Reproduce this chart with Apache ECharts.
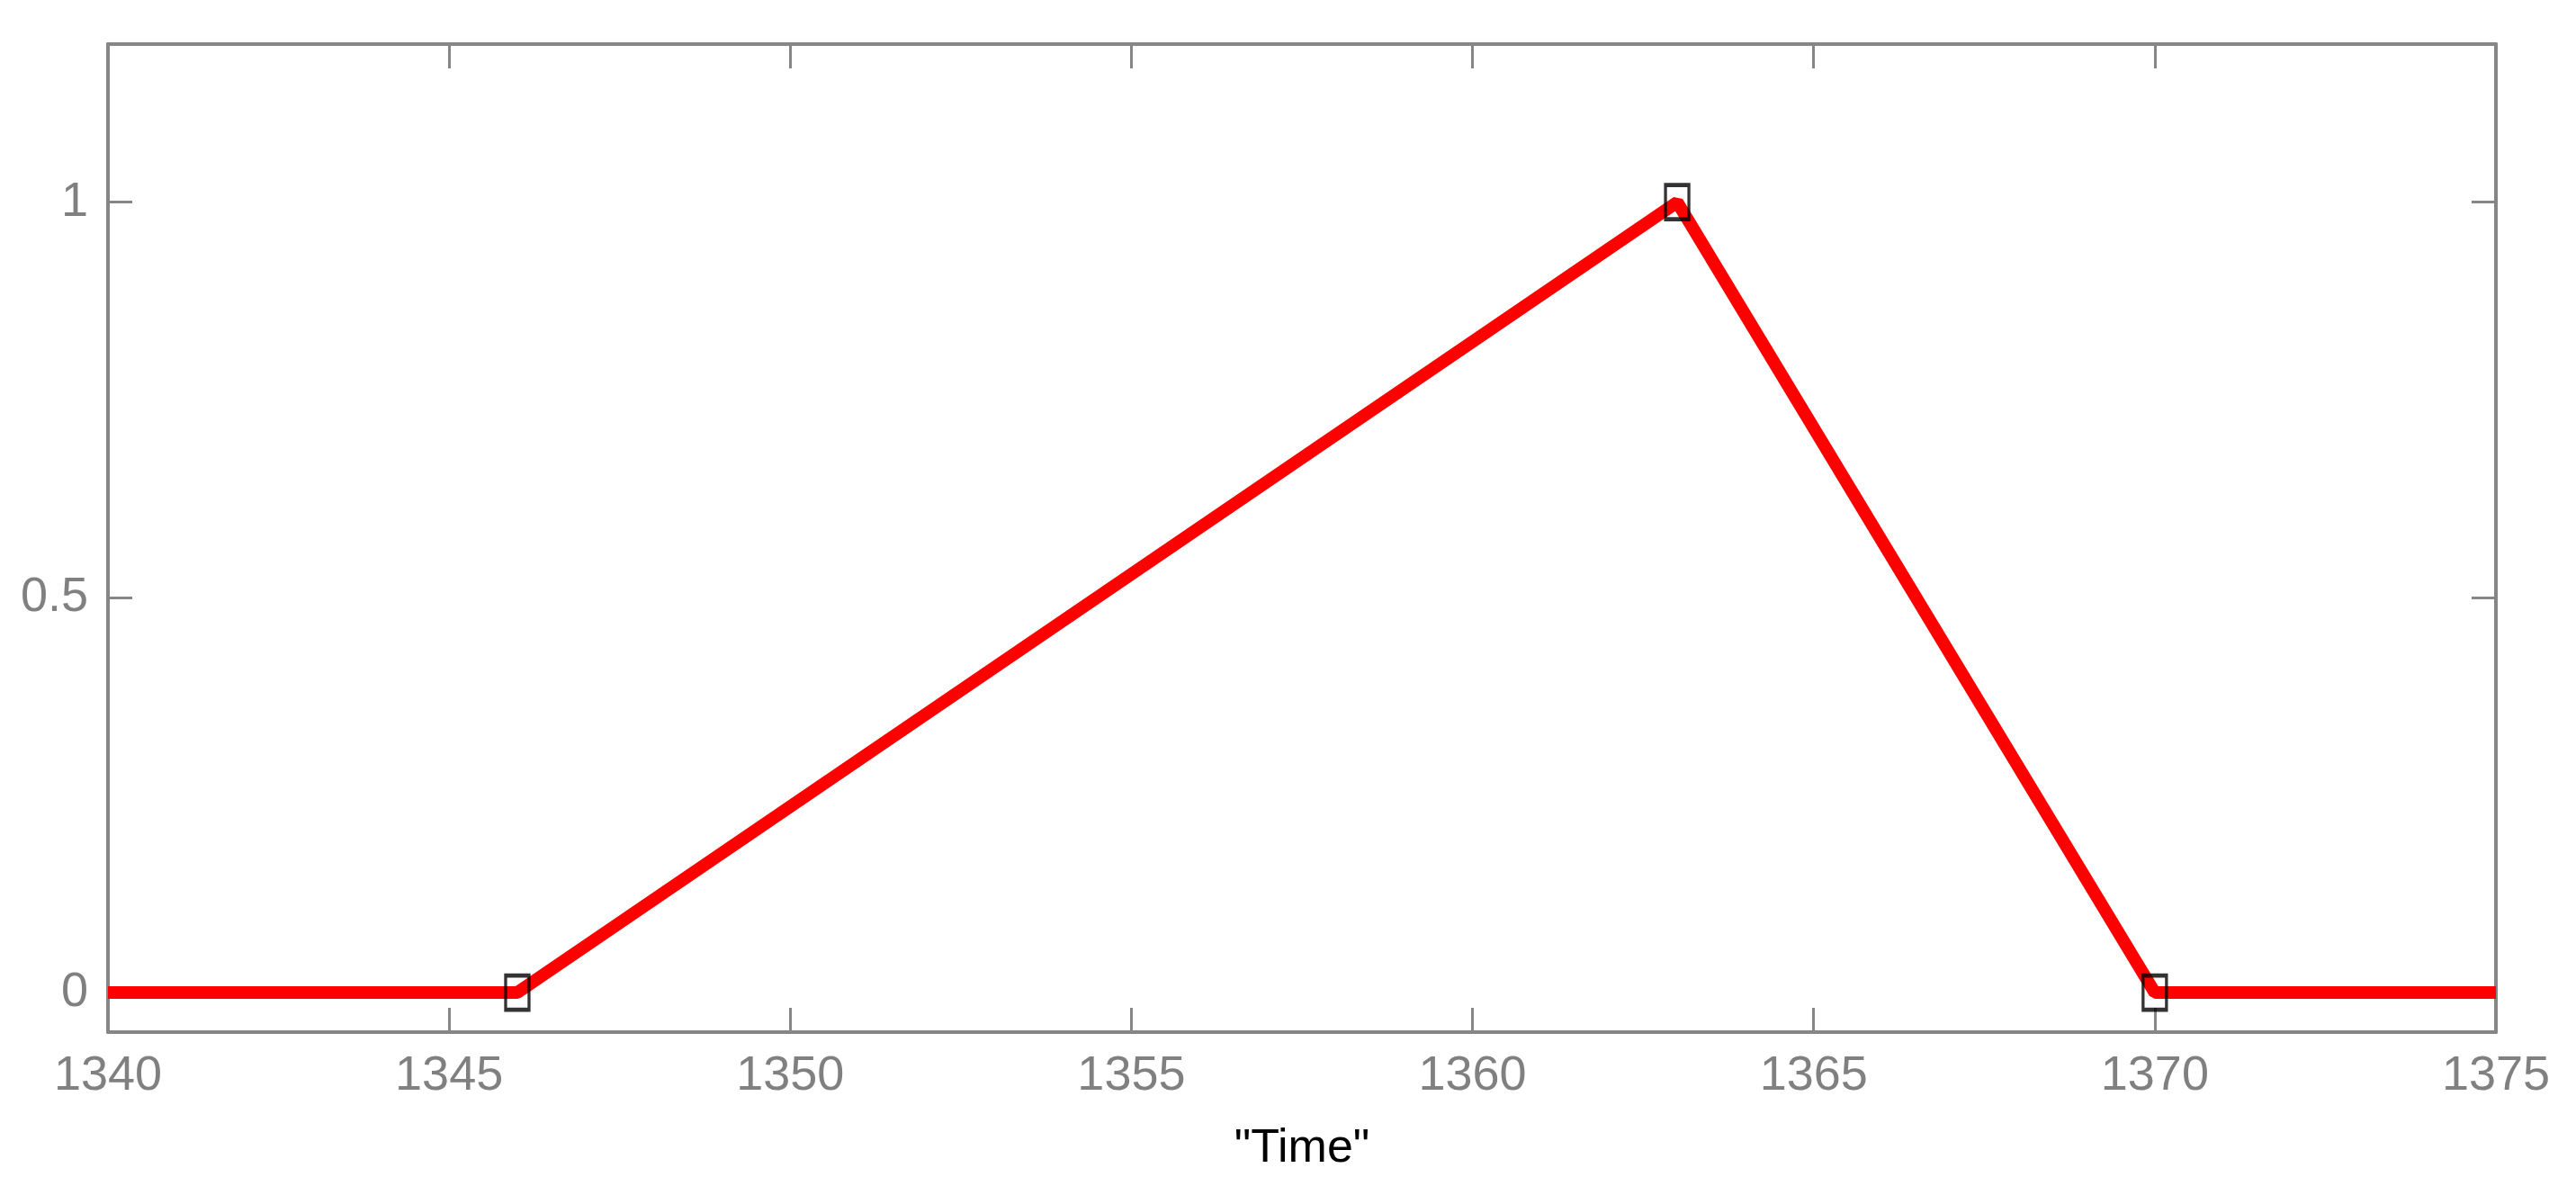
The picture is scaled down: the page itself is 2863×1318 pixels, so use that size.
<!DOCTYPE html>
<html>
<head>
<meta charset="utf-8">
<script src="https://cdn.jsdelivr.net/npm/echarts@6/dist/echarts.min.js"></script>
<style>
  html, body { margin: 0; padding: 0; background: #fff; }
  #chart { width: 2863px; height: 1318px; }
</style>
</head>
<body>
<div id="chart"></div>
<script>
// data
const timeValues = [1340, 1346, 1363, 1370, 1375];
const levelValues = [0, 0, 1, 0, 0];
// points that carry a square marker (indexes into the arrays above)
const markedIndexes = [1, 2, 3];
const yTickValues = [0, 0.5, 1];

const axisGray = '#868686';
const labelFont = 'Liberation Sans, Arial, sans-serif';

const lineData = timeValues.map((t, i) => [t, levelValues[i]]);
const markerData = markedIndexes.map(i => [timeValues[i], levelValues[i]]);

const chart = echarts.init(document.getElementById('chart'));

const xCommon = {
  type: 'value',
  min: 1340,
  max: 1375,
  interval: 5,
  axisLine: { show: true, onZero: false, lineStyle: { color: axisGray, width: 4 } },
  axisTick: { show: true, inside: true, length: 27, lineStyle: { color: axisGray, width: 3 } },
  splitLine: { show: false },
};
const yCommon = {
  type: 'value',
  min: -0.05,
  max: 1.2,
  axisLine: { show: true, onZero: false, lineStyle: { color: axisGray, width: 4 } },
  axisTick: { show: true, inside: true, length: 27, customValues: yTickValues, lineStyle: { color: axisGray, width: 3 } },
  splitLine: { show: false },
};

const option = {
  backgroundColor: '#fff',
  animation: false,
  grid: {
    left: 120,
    right: 89,
    top: 49,
    bottom: 171,
  },
  xAxis: [
    Object.assign({}, xCommon, {
      position: 'bottom',
      name: '"Time"',
      nameLocation: 'middle',
      nameGap: 104,
      nameTextStyle: { color: '#000', fontSize: 52, fontFamily: labelFont },
      axisLabel: {
        color: '#808080',
        fontSize: 54,
        fontFamily: labelFont,
        margin: 22,
        formatter: v => String(v),
      },
    }),
    Object.assign({}, xCommon, {
      position: 'top',
      axisLabel: { show: false },
    }),
  ],
  yAxis: [
    Object.assign({}, yCommon, {
      position: 'left',
      axisLabel: {
        color: '#808080',
        fontSize: 54,
        fontFamily: labelFont,
        margin: 22,
        customValues: yTickValues,
        formatter: v => String(v),
      },
    }),
    Object.assign({}, yCommon, {
      position: 'right',
      axisLabel: { show: false },
    }),
  ],
  series: [
    {
      type: 'line',
      data: lineData,
      symbol: 'none',
      lineStyle: { color: '#ff0000', width: 14 },
      z: 2,
    },
    {
      type: 'scatter',
      data: markerData,
      symbol: 'rect',
      symbolSize: [26, 38],
      itemStyle: { color: 'rgba(0,0,0,0)', borderColor: '#000', borderWidth: 4 },
      z: 3,
    },
  ],
};

chart.setOption(option);
</script>
</body>
</html>
